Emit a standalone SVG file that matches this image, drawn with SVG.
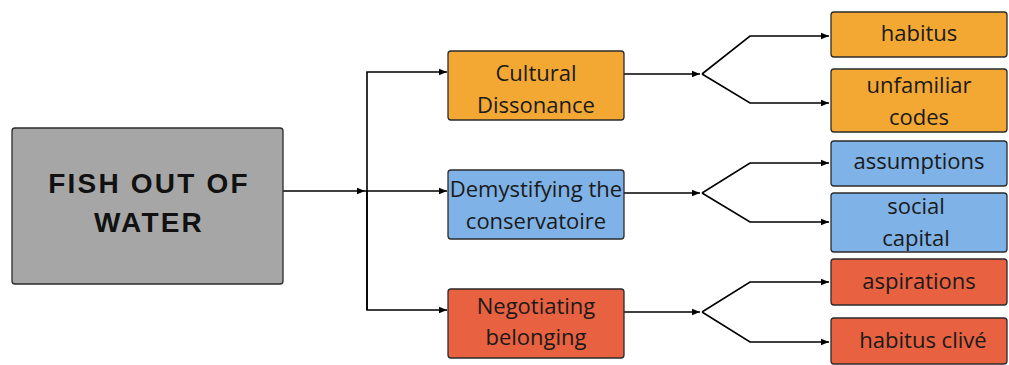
<svg xmlns="http://www.w3.org/2000/svg" width="1009" height="365" viewBox="0 0 1009 365">
<style>
.box{stroke:#2b2b2b;stroke-width:1.3}
.or{fill:#f3a834}
.bl{fill:#7fb2e6}
.rd{fill:#e86141}
.t{font-family:"Open Sans","Noto Sans",sans-serif;font-size:22px;fill:#1a1a1a;text-anchor:middle}
.main{font-family:"Liberation Sans",Arial,sans-serif;font-size:28px;font-weight:bold;fill:#111;text-anchor:middle;letter-spacing:2.2px}
.c{fill:none;stroke:#000;stroke-width:1.6}
</style>
<defs>
<marker id="ah" viewBox="0 0 8 8" refX="8" refY="4" markerWidth="8" markerHeight="8" markerUnits="userSpaceOnUse" orient="auto">
<path d="M0,0.8 L8,4 L0,7.2 Z" fill="#000"/>
</marker>
</defs>
<g id="connectors">
<path class="c" d="M283,191 L365,191" marker-end="url(#ah)"/>
<path class="c" d="M365,191 L447,191" marker-end="url(#ah)"/>
<path class="c" d="M367,310 L367,72 L447,72" marker-end="url(#ah)"/>
<path class="c" d="M367,191 L367,310 L447,310" marker-end="url(#ah)"/>
<path class="c" d="M624,74 L700,74" marker-end="url(#ah)"/>
<path class="c" d="M624,193 L700,193" marker-end="url(#ah)"/>
<path class="c" d="M624,312 L700,312" marker-end="url(#ah)"/>
<path class="c" d="M702,74 L750,36 L829,36" marker-end="url(#ah)"/>
<path class="c" d="M702,74 L750,103 L829,103" marker-end="url(#ah)"/>
<path class="c" d="M702,193 L750,163 L829,163" marker-end="url(#ah)"/>
<path class="c" d="M702,193 L750,222 L829,222" marker-end="url(#ah)"/>
<path class="c" d="M702,312 L750,282 L829,282" marker-end="url(#ah)"/>
<path class="c" d="M702,312 L750,342 L829,342" marker-end="url(#ah)"/>
</g>
<g id="fish-out-of-water">
<rect class="box" x="12" y="128" width="271" height="156" rx="3" fill="#a6a6a6"/>
<text class="main" x="149" y="193">FISH OUT OF</text>
<text class="main" x="149" y="232">WATER</text>
</g>
<g id="cultural-dissonance">
<rect class="box or" x="448" y="51" width="176" height="69" rx="3"/>
<text class="t" x="536" y="81">Cultural</text>
<text class="t" x="536" y="113">Dissonance</text>
</g>
<g id="demystifying">
<rect class="box bl" x="448" y="170" width="176" height="69" rx="3"/>
<text class="t" x="536" y="197">Demystifying the</text>
<text class="t" x="536" y="229">conservatoire</text>
</g>
<g id="negotiating-belonging">
<rect class="box rd" x="448" y="289" width="176" height="69" rx="3"/>
<text class="t" x="536" y="314">Negotiating</text>
<text class="t" x="536" y="345">belonging</text>
</g>
<g id="habitus">
<rect class="box or" x="831" y="12" width="176" height="45" rx="3"/>
<text class="t" x="919" y="41">habitus</text>
</g>
<g id="unfamiliar-codes">
<rect class="box or" x="831" y="69" width="176" height="63" rx="3"/>
<text class="t" x="919" y="93">unfamiliar</text>
<text class="t" x="919" y="125">codes</text>
</g>
<g id="assumptions">
<rect class="box bl" x="831" y="141" width="176" height="45" rx="3"/>
<text class="t" x="919" y="169">assumptions</text>
</g>
<g id="social-capital">
<rect class="box bl" x="831" y="193" width="176" height="59" rx="3"/>
<text class="t" x="916" y="214">social</text>
<text class="t" x="916" y="246">capital</text>
</g>
<g id="aspirations">
<rect class="box rd" x="831" y="259" width="176" height="46" rx="3"/>
<text class="t" x="919" y="289">aspirations</text>
</g>
<g id="habitus-clive">
<rect class="box rd" x="831" y="318" width="176" height="46" rx="3"/>
<text class="t" x="923" y="348">habitus clivé</text>
</g>
</svg>
